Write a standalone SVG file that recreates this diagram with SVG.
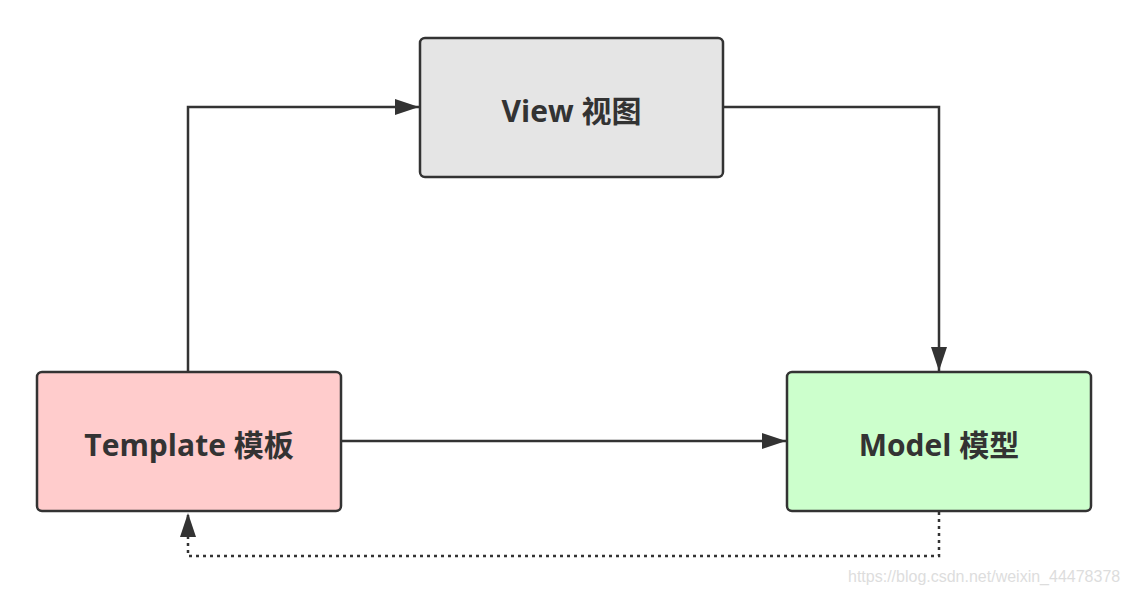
<svg xmlns="http://www.w3.org/2000/svg" width="1128" height="594" viewBox="0 0 1128 594">
<style>
.box{stroke:#333;stroke-width:2.5}
.lbl{font-family:"Open Sans","Noto Sans CJK SC",sans-serif;font-weight:bold;font-size:30px;fill:#333;text-anchor:middle}
.c{fill:none;stroke:#333;stroke-width:2.5}
.d{stroke-dasharray:3 4}
.wm{font-family:"Liberation Sans",Arial,sans-serif;font-size:16px;fill:#ddd}
</style>
<defs>
<marker id="a" markerUnits="userSpaceOnUse" markerWidth="24" markerHeight="16" refX="24" refY="8" orient="auto">
<path d="M0,0 L24,8 L0,16 Z" fill="#333"/>
</marker>
</defs>
<rect width="1128" height="594" fill="#fff"/>
<g id="connectors">
<path class="c" d="M188,372 V107 H419" marker-end="url(#a)"/>
<path class="c" d="M723,107 H939 V371" marker-end="url(#a)"/>
<path class="c" d="M341,441 H786" marker-end="url(#a)"/>
<path class="c d" d="M939,512 V556 H188 V513" marker-end="url(#a)"/>
</g>
<g id="view">
<rect class="box" x="420" y="38" width="303" height="139" rx="5" fill="#e5e5e5"/>
<text class="lbl" x="571.5" y="122">View 视图</text>
</g>
<g id="template">
<rect class="box" x="37" y="372" width="304" height="139" rx="5" fill="#ffcccc"/>
<text class="lbl" x="189" y="456">Template 模板</text>
</g>
<g id="model">
<rect class="box" x="787" y="372" width="304" height="139" rx="5" fill="#ccffcc"/>
<text class="lbl" x="939" y="456">Model 模型</text>
</g>
<text class="wm" x="848" y="582">https://blog.csdn.net/weixin_44478378</text>
</svg>
